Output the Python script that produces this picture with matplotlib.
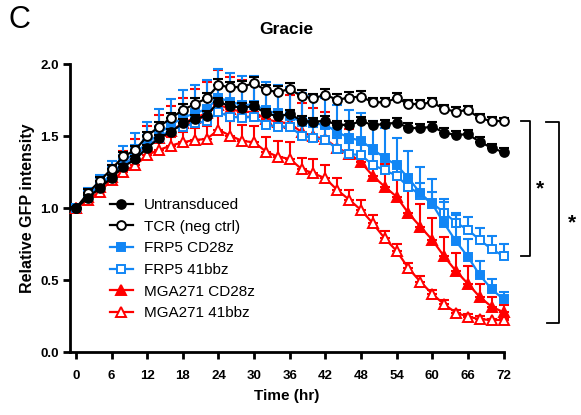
import matplotlib
matplotlib.use("Agg")
import matplotlib.pyplot as plt
import numpy as np

plt.rcParams['font.family'] = ['Liberation Sans', 'DejaVu Sans']

time_hr = list(range(0, 73, 2))

untransduced = [1.00, 1.074, 1.14, 1.213, 1.29, 1.34, 1.42, 1.487, 1.533, 1.59, 1.62, 1.645, 1.74,
                1.71, 1.70, 1.71, 1.66, 1.64, 1.655, 1.61, 1.60, 1.61, 1.58, 1.58, 1.605, 1.58,
                1.585, 1.596, 1.56, 1.556, 1.568, 1.526, 1.51, 1.515, 1.463, 1.42, 1.39]
untransduced_err = [0.01, 0.02, 0.02, 0.02, 0.02, 0.02, 0.02, 0.02, 0.02, 0.03, 0.03, 0.03, 0.03,
                    0.03, 0.03, 0.03, 0.03, 0.03, 0.03, 0.03, 0.03, 0.03, 0.03, 0.03, 0.03, 0.03,
                    0.03, 0.03, 0.03, 0.03, 0.03, 0.03, 0.03, 0.03, 0.03, 0.03, 0.03]

tcr = [1.00, 1.104, 1.19, 1.273, 1.36, 1.406, 1.503, 1.568, 1.626, 1.684, 1.724, 1.765, 1.858,
       1.84, 1.846, 1.87, 1.82, 1.81, 1.828, 1.78, 1.765, 1.79, 1.754, 1.77, 1.777, 1.737,
       1.737, 1.765, 1.726, 1.724, 1.737, 1.69, 1.672, 1.684, 1.626, 1.607, 1.607]
tcr_err = [0.01, 0.03, 0.03, 0.03, 0.03, 0.03, 0.03, 0.03, 0.04, 0.04, 0.04, 0.04, 0.04,
           0.04, 0.04, 0.04, 0.04, 0.04, 0.04, 0.04, 0.03, 0.04, 0.04, 0.04, 0.04, 0.03,
           0.03, 0.04, 0.03, 0.03, 0.03, 0.03, 0.03, 0.03, 0.03, 0.03, 0.02]

frp5_cd28z = [1.00, 1.09, 1.16, 1.24, 1.32, 1.39, 1.45, 1.52, 1.58, 1.63, 1.66, 1.69, 1.77,
              1.74, 1.72, 1.72, 1.68, 1.66, 1.64, 1.60, 1.59, 1.58, 1.53, 1.49, 1.47, 1.41,
              1.35, 1.30, 1.21, 1.104, 1.03, 0.895, 0.77, 0.663, 0.535, 0.437, 0.367]
frp5_cd28z_err = [0.02, 0.05, 0.07, 0.09, 0.11, 0.13, 0.15, 0.17, 0.18, 0.19, 0.20, 0.20, 0.20,
                  0.20, 0.20, 0.20, 0.20, 0.20, 0.20, 0.20, 0.20, 0.19, 0.19, 0.19, 0.19, 0.20,
                  0.21, 0.19, 0.19, 0.18, 0.17, 0.17, 0.18, 0.12, 0.10, 0.07, 0.053]

frp5_41bbz = [1.00, 1.085, 1.16, 1.23, 1.30, 1.36, 1.43, 1.49, 1.55, 1.568, 1.59, 1.607, 1.668,
              1.637, 1.63, 1.637, 1.58, 1.568, 1.568, 1.505, 1.487, 1.478, 1.41, 1.376, 1.371,
              1.30, 1.266, 1.225, 1.15, 1.093, 1.035, 0.97, 0.90, 0.85, 0.78, 0.715, 0.668]
frp5_41bbz_err = [0.02, 0.04, 0.05, 0.06, 0.07, 0.08, 0.08, 0.08, 0.08, 0.08, 0.08, 0.08, 0.08,
                  0.08, 0.08, 0.08, 0.08, 0.08, 0.08, 0.08, 0.08, 0.08, 0.08, 0.08, 0.08, 0.08,
                  0.08, 0.08, 0.08, 0.08, 0.08, 0.07, 0.07, 0.09, 0.085, 0.09, 0.085]

mga271_cd28z = [1.00, 1.08, 1.15, 1.22, 1.30, 1.36, 1.43, 1.49, 1.54, 1.59, 1.63, 1.66, 1.72,
                1.69, 1.67, 1.67, 1.62, 1.60, 1.59, 1.53, 1.50, 1.48, 1.42, 1.38, 1.32, 1.225,
                1.15, 1.08, 0.965, 0.872, 0.78, 0.665, 0.563, 0.475, 0.383, 0.315, 0.277]
mga271_cd28z_err = [0.02, 0.04, 0.06, 0.08, 0.10, 0.12, 0.14, 0.16, 0.17, 0.18, 0.20, 0.22, 0.24,
                    0.22, 0.22, 0.20, 0.20, 0.20, 0.20, 0.20, 0.20, 0.19, 0.18, 0.17, 0.16, 0.16,
                    0.16, 0.16, 0.16, 0.155, 0.155, 0.135, 0.125, 0.125, 0.087, 0.066, 0.05]

mga271_41bbz = [1.00, 1.058, 1.115, 1.197, 1.255, 1.30, 1.371, 1.406, 1.436, 1.459, 1.475, 1.482,
                1.545, 1.505, 1.468, 1.459, 1.394, 1.359, 1.343, 1.273, 1.243, 1.208, 1.127,
                1.06, 0.988, 0.895, 0.79, 0.703, 0.582, 0.489, 0.404, 0.332, 0.273, 0.246,
                0.228, 0.223, 0.223]
mga271_41bbz_err = [0.02, 0.03, 0.03, 0.04, 0.04, 0.05, 0.05, 0.06, 0.06, 0.07, 0.08, 0.09, 0.10,
                    0.10, 0.11, 0.11, 0.10, 0.11, 0.12, 0.08, 0.10, 0.09, 0.08, 0.07, 0.07, 0.06,
                    0.05, 0.05, 0.04, 0.04, 0.03, 0.03, 0.02, 0.02, 0.02, 0.01, 0.01]

labels = ["Untransduced", "TCR (neg ctrl)", "FRP5 CD28z", "FRP5 41bbz",
          "MGA271 CD28z", "MGA271 41bbz"]
x_ticks = [0, 6, 12, 18, 24, 30, 36, 42, 48, 54, 60, 66, 72]
y_ticks = [0.0, 0.5, 1.0, 1.5, 2.0]

BLUE = "#1286F5"
RED = "#FF0000"
BLACK = "#000000"

W, H = 581, 415
fig = plt.figure(figsize=(W / 100, H / 100), dpi=100)
ax = fig.add_axes([70 / W, (H - 352) / H, (503.5 - 70) / W, (352 - 64.5) / H])

series = [
    (mga271_41bbz, mga271_41bbz_err, RED, '^', False, 5, 3),
    (mga271_cd28z, mga271_cd28z_err, RED, '^', True, 4, 4),
    (frp5_41bbz, frp5_41bbz_err, BLUE, 's', False, 3, 5),
    (frp5_cd28z, frp5_cd28z_err, BLUE, 's', True, 2, 6),
    (tcr, tcr_err, BLACK, 'o', False, 1, 7),
    (untransduced, untransduced_err, BLACK, 'o', True, 0, 8),
]

handles = {}
for vals, err, col, mk, filled, li, z in series:
    vals = np.array(vals)
    err = np.array(err)
    ax.errorbar(time_hr, vals, yerr=[np.zeros_like(err), err], fmt='none',
                ecolor=col, elinewidth=1.5, capsize=3.8, capthick=1.5,
                zorder=z, clip_on=False)
    ms = 7 if mk == '^' else 6.3
    ln, = ax.plot(time_hr, vals, color=col, lw=1.6, marker=mk, markersize=ms,
                  markerfacecolor=(col if filled else 'white'),
                  markeredgecolor=col, markeredgewidth=1.4,
                  zorder=z + 0.5, clip_on=False, label=labels[li])
    handles[li] = ln

ax.set_xlim(-1, 72)
ax.set_ylim(0, 2.0)
ax.set_xticks(x_ticks)
ax.set_yticks(y_ticks)
ax.set_yticklabels([f"{v:.1f}" for v in y_ticks])
for s in ['top', 'right']:
    ax.spines[s].set_visible(False)
for s in ['left', 'bottom']:
    ax.spines[s].set_linewidth(2.0)
ax.tick_params(axis='both', direction='out', length=5, width=2.0, labelsize=9.5, pad=3)
ax.tick_params(axis='x', pad=8)
for lab in ax.get_xticklabels() + ax.get_yticklabels():
    lab.set_fontweight('bold')

ax.set_xlabel("Time (hr)", fontsize=11, fontweight='bold', labelpad=5)
ax.set_ylabel("Relative GFP intensity", fontsize=11.5, fontweight='bold', labelpad=4)

fig.text(286 / W, 1 - 30 / H, "Gracie", fontsize=12.5, fontweight='bold',
         ha='center', va='center')
fig.text(9 / W, 1 - 20 / H, "C", fontsize=22, ha='left', va='center')

leg = ax.legend([handles[i] for i in range(6)], labels, loc='upper left',
                bbox_to_anchor=((110 - 70) / (503.5 - 70), (352 - 198) / (352 - 64.5)),
                frameon=False, fontsize=11, handlelength=1.5, handletextpad=0.7,
                labelspacing=0.5, borderpad=0, borderaxespad=0)

# significance brackets (annotation, drawn in data coordinates)
b1_top, b1_bot = tcr[-1], frp5_41bbz[-1]
ax.plot([74.9, 76.4, 76.4, 74.9], [b1_top, b1_top, b1_bot, b1_bot], color='black',
        lw=1.3, clip_on=False)
ax.text(78.2, (b1_top + b1_bot) / 2 + 0.0, "*", fontsize=15, fontweight='bold',
        ha='center', va='center')
b2_top, b2_bot = untransduced[-1] + 0.21, mga271_41bbz[-1] - 0.02
ax.plot([79.2, 81.4, 81.4, 79.4], [b2_top, b2_top, b2_bot, b2_bot], color='black',
        lw=1.3, clip_on=False)
ax.text(83.6, (b2_top + b2_bot) / 2 + 0.0, "*", fontsize=15, fontweight='bold',
        ha='center', va='center')

fig.savefig("out.png", dpi=100)
